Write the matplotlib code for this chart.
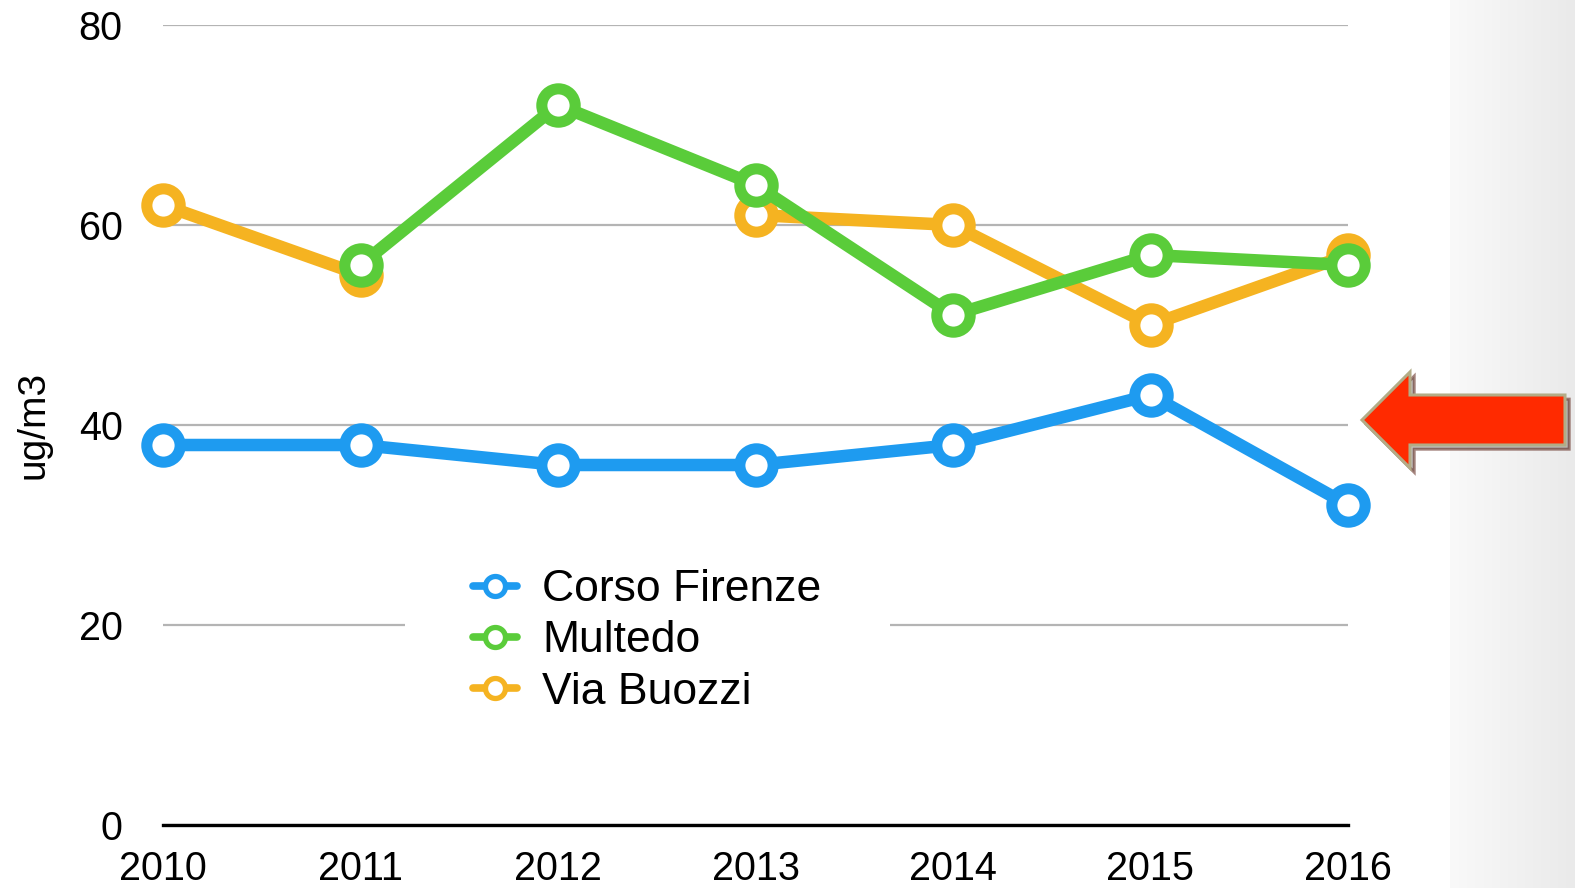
import numpy as np
import matplotlib
matplotlib.use("Agg")
import matplotlib.pyplot as plt
from matplotlib.patches import Polygon, Shadow, Rectangle

years = [2010, 2011, 2012, 2013, 2014, 2015, 2016]
corso_firenze = [38, 38, 36, 36, 38, 43, 32]
multedo = [np.nan, 56, 72, 64, 51, 57, 56]
via_buozzi = [62, 55, np.nan, 61, 60, 50, 57]
series_names = ["Corso Firenze", "Multedo", "Via Buozzi"]
colors = ["#1E9BF0", "#5ACC3A", "#F5B321"]
yticks = [0, 20, 40, 60, 80]

plt.rcParams['font.family'] = ['Liberation Sans', 'DejaVu Sans']

W, H = 1575, 888
fig = plt.figure(figsize=(W / 100, H / 100), dpi=100)
fig.patch.set_facecolor("white")

# right gray gradient band
bg = fig.add_axes([1450 / W, 0, (W - 1450) / W, 1], zorder=0)
grad = np.linspace(0, 1, 200)[None, :]
bg.imshow(grad, aspect="auto", cmap=matplotlib.colors.LinearSegmentedColormap.from_list(
    "g", ["#f9f9f9", "#eaeaea"]), extent=[0, 1, 0, 1])
bg.axis("off")

left, right = 163 / W, 1348 / W
bottom, top = 1 - 825 / H, 1 - 25 / H
ax = fig.add_axes([left, bottom, right - left, top - bottom], zorder=1)
ax.set_facecolor("none")
ax.set_xlim(years[0], years[-1])
ax.set_ylim(0, 80)
ax.set_yticks(yticks)
ax.set_xticks(years)
ax.set_xticklabels([str(y) for y in years])
ax.tick_params(axis="both", length=0, labelsize=28.5)
ax.tick_params(axis="y", pad=29)
ax.tick_params(axis="x", pad=18)
for s in ["top", "right", "left"]:
    ax.spines[s].set_visible(False)
ax.spines["bottom"].set_linewidth(2.4)
ax.spines["bottom"].set_color("black")
ax.spines["bottom"].set_zorder(5)
ax.set_axisbelow(True)
ax.yaxis.grid(True, color="#b4b4b4", linewidth=1.6)
fig.text(33 / W, 1 - 425 / H, "ug/m3", rotation=90, ha="center", va="center",
         fontsize=28)

# white legend backdrop
ax.add_patch(Rectangle((405 / W, 1 - 715 / H), (890 - 405) / W, (715 - 555) / H,
                       transform=fig.transFigure, facecolor="white",
                       edgecolor="none", zorder=1.5))

data = [corso_firenze, multedo, via_buozzi]
zorders = [4, 3, 2]
handles = []
for name, vals, c, z in zip(series_names, data, colors, zorders):
    ln, = ax.plot(years, vals, color=c, linewidth=9, marker="o", markersize=24,
                  markerfacecolor="white", markeredgecolor=c, markeredgewidth=8,
                  solid_capstyle="round", zorder=z, label=name, clip_on=False)
    handles.append(ln)

leg = fig.legend(handles=handles, loc="center left",
                 bbox_to_anchor=(473 / W, 1 - 641 / H), frameon=False,
                 fontsize=32, handlelength=1.0, handletextpad=0.55,
                 labelspacing=0.23, borderpad=0.0, borderaxespad=0,
                 markerscale=0.6)
leg.set_zorder(6)
for h in leg.legend_handles:
    h.set_linewidth(5.5)
    h.set_markeredgewidth(3.8)

# red arrow
pts_px = [(1362, 420), (1410, 372), (1410, 395), (1565, 395),
          (1565, 445), (1410, 445), (1410, 468)]
pts = [(x / W, 1 - y / H) for x, y in pts_px]
arrow = Polygon(pts, closed=True, transform=fig.transFigure,
                facecolor="#FF2A00", edgecolor="#B3AC86", linewidth=2.2, zorder=10)
fig.patches.append(arrow)
sh = Shadow(arrow, 3 / W, -3 / H, facecolor="#8a8a8a", alpha=0.5, zorder=9)
fig.patches.append(sh)

fig.savefig("out.png", dpi=100)
